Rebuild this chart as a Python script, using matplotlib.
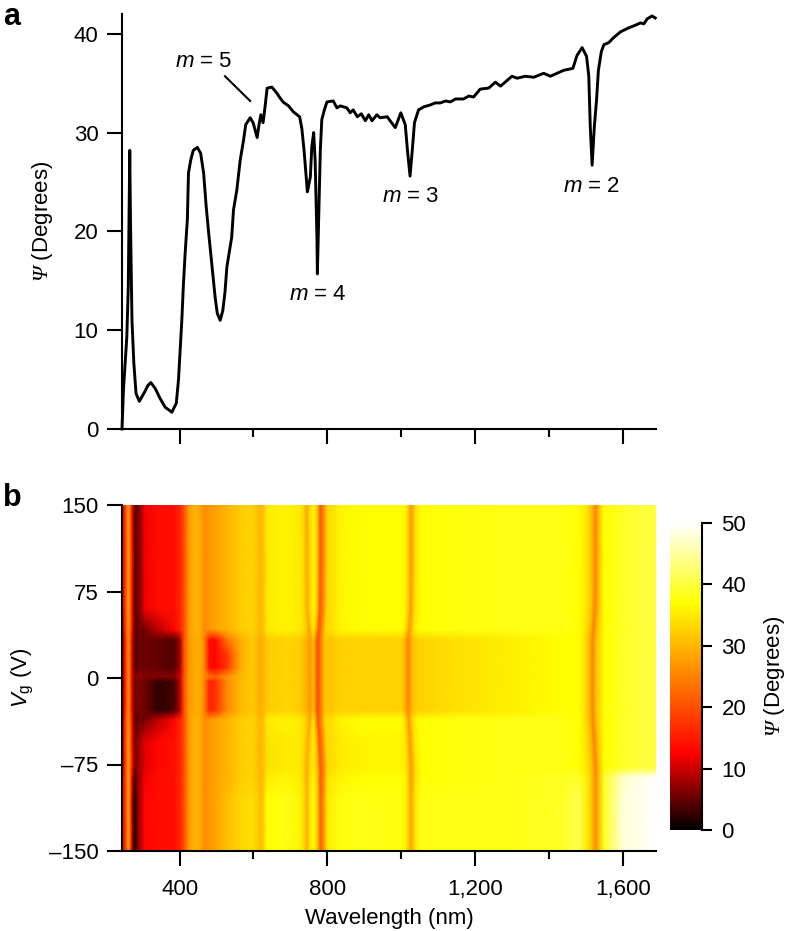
import numpy as np
import matplotlib
matplotlib.use("Agg")
import matplotlib.pyplot as plt
from matplotlib.colors import LinearSegmentedColormap

plt.rcParams["font.family"] = ["Liberation Sans", "DejaVu Sans"]
plt.rcParams["mathtext.fontset"] = "custom"
plt.rcParams["mathtext.rm"] = "Liberation Sans"
plt.rcParams["mathtext.it"] = "Liberation Sans:italic"
plt.rcParams["mathtext.bf"] = "Liberation Serif:italic"

# panel a, spectrum
wavelength = [244, 248, 257, 261, 263, 265, 267, 271, 276, 282, 291, 297, 306, 314, 322, 334, 347, 361, 379, 391,
              397, 401, 406, 410, 415, 421, 424, 430, 437, 448, 457, 465, 472, 478, 487, 496, 502, 510, 517, 523,
              528, 541, 546, 555, 564, 573, 579, 591, 599, 605, 610, 615, 620, 626, 631, 637, 650, 663, 672, 680,
              695, 708, 725, 731, 737, 746, 754, 758, 763, 767, 772, 773, 777, 781, 785, 792, 799, 816, 826, 835,
              853, 862, 870, 881, 892, 903, 912, 921, 934, 943, 962, 970, 984, 999, 1011, 1017, 1024, 1030, 1036, 1047,
              1061, 1079, 1092, 1106, 1120, 1133, 1147, 1169, 1183, 1196, 1214, 1237, 1255, 1269, 1300, 1314, 1336, 1359,
              1386, 1404, 1422, 1440, 1465, 1476, 1490, 1502, 1508, 1512, 1517, 1523, 1529, 1534, 1542, 1549, 1562, 1575,
              1594, 1616, 1630, 1648, 1657, 1666, 1679, 1688]
psi = [0, 4, 9.3, 14.4, 21, 28.2, 21, 11, 6.7, 3.6, 2.8, 3.2, 3.8, 4.4, 4.7, 4.1, 3.1, 2.2, 1.7, 2.6,
       5, 7.7, 11, 14.4, 17.8, 21.2, 25.9, 27.2, 28.2, 28.5, 27.9, 25.9, 22.5, 20.1, 16.8, 13.4, 11.7, 11, 12, 13.9,
       16.4, 19.4, 22.2, 24.2, 27.2, 29.2, 30.8, 31.5, 31, 30.2, 29.5, 30.8, 31.8, 31, 32.5, 34.5, 34.6, 34, 33.5, 33.1,
       32.7, 32.1, 31.6, 30.4, 28.2, 24, 25.5, 28.6, 30, 27.2, 19.1, 15.7, 22, 28.2, 31.3, 32.3, 33.1, 33.2, 32.5, 32.7,
       32.5, 32, 32.3, 31.6, 31.9, 31.2, 31.8, 31.2, 31.8, 31.5, 31.6, 31.2, 30.5, 32, 30.8, 28.2, 25.6, 28.2, 31, 32.3,
       32.6, 32.8, 33, 33, 33.2, 33.1, 33.4, 33.4, 33.7, 33.6, 34.4, 34.5, 35.1, 34.7, 35.7, 35.5, 35.7, 35.6,
       36, 35.7, 36, 36.3, 36.5, 37.8, 38.6, 37.7, 35.7, 30.6, 26.7, 30.6, 33.3, 36.3, 38.2, 38.9, 39.1, 39.6,
       40.2, 40.6, 40.8, 41.1, 41, 41.5, 41.8, 41.6]

# panel b, heat map nodes along wavelength, one list per band of gate voltage
map_wl = [244, 250, 255, 261, 267, 272, 278, 290, 306, 340, 385, 401, 412, 425, 442, 455, 466, 480, 496, 530,
          564, 596, 612, 618, 627, 636, 690, 728, 738, 745, 752, 762, 772, 781, 790, 800, 835, 900, 1000, 1015,
          1027, 1039, 1055, 1150, 1300, 1440, 1480, 1505, 1516, 1526, 1536, 1550, 1600, 1650, 1690]
# +1 moves with the gate like the 780 line, -1 moves the other way
map_follow = [0] * 28 + [-1, -1, -1, 0, 1, 1, 1, 1, 0, 0, 0, 1, 1, 1, 1, 0, 0, 0, 0, 1, 1, 1, 1, 0, 0, 0, 0]

band_top = [14, 14, 20, 28, 22, 13, 5, 6, 12, 13.5, 14, 16, 20, 27, 30, 29, 26, 27, 28, 30,
            32, 33, 31, 30, 31, 35, 36, 35, 32, 29, 33, 36, 33, 21, 25, 33, 36, 37, 37, 35,
            27, 34, 37, 37.5, 38, 38, 37, 34, 31, 25, 31, 37, 39, 40, 40]
band_upper = [7, 13, 20, 27, 21, 12, 5, 5, 6, 9, 13, 16, 20, 27, 30, 29, 26, 27, 28, 30,
              32, 33, 31, 30, 31, 35, 36, 35, 32, 28, 32, 35, 32, 21, 25, 33, 36, 37, 37, 35,
              27, 34, 37, 37.5, 38, 38, 37, 34, 31, 25, 31, 37, 39, 40, 40]
band_blob_up = [4, 12, 18, 26, 20, 10, 5, 5, 5.5, 5, 4, 8, 20, 27, 29, 29, 26, 14, 13, 18,
                29, 32, 30, 29, 30, 32, 33, 32, 29, 27, 30, 32, 29, 20, 24, 31, 32.5, 32.5, 32.5, 31,
                25, 31, 32.5, 34, 35.5, 37, 37, 34, 31, 25, 31, 37, 39, 40, 40]
band_blob_top = band_blob_up.copy()
band_blob_top[19] = 24
band_gap = [4, 12, 18, 26, 20, 10, 7, 7, 7, 6.5, 7, 10, 20, 27, 29, 29, 26, 24, 22, 27,
            30, 32, 30, 29, 30, 32, 33, 32, 29, 27, 30, 32, 29, 20, 24, 31, 32.5, 32.5, 32.5, 31,
            25, 31, 32.5, 34, 35.5, 37, 37, 34, 31, 25, 31, 37, 39, 40, 40]
band_blob_down = [4, 12, 18, 26, 20, 10, 6, 6, 5.5, 2.5, 3.5, 9, 20, 27, 29, 29, 26, 16, 17, 26,
                  30, 32, 30, 29, 30, 32, 33, 32, 29, 27, 30, 32, 29, 20, 24, 31, 32.5, 32.5, 32.5, 31,
                  25, 31, 32.5, 34, 35.5, 37, 37, 34, 31, 25, 31, 37, 39, 40, 40]
band_lower = [7, 14, 20, 28, 22, 13, 6, 8, 11, 13, 14, 16, 20, 27, 30, 29, 26, 27, 28, 30,
              32, 33, 31, 30, 31, 34, 35, 35, 32, 29, 33, 35, 32, 21, 25, 33, 35, 36, 36, 34,
              27, 34, 37, 37.5, 38, 38, 37, 34, 31, 25, 31, 37, 39, 40, 40]
band_edge = [14, 14, 20, 28, 21, 10, 4, 8, 12, 13.5, 14, 16, 20, 27, 30, 29, 26, 27, 28, 30,
             32, 33, 31, 30, 31, 35, 36, 35, 32, 29, 33, 36, 33, 21, 25, 34, 36, 37, 37, 35,
             27, 34, 37, 37.5, 38, 38.5, 39, 35, 31, 26, 31, 39, 47, 49, 50]
band_bottom = [14, 14, 20, 28, 20, 8, 2, 8, 13, 13.5, 14, 16, 20, 27, 30, 29, 26, 27, 28, 31,
               33, 34, 32, 31, 32, 37, 38, 36, 33, 29, 34, 37, 33, 22, 26, 35, 37.5, 38, 37.5, 35,
               28, 35, 38, 38, 38, 39, 41, 35, 31, 26, 31, 39, 48, 49, 50]

vg_rows = [150, 60, 42, 33, 20, 9, 1, -3, -28, -36, -55, -78, -86, -105, -150]
row_bands = [band_top, band_top, band_upper, band_blob_top, band_blob_up, band_blob_up, band_gap, band_blob_down,
             band_blob_down, band_upper, band_lower, band_lower, band_edge, band_bottom, band_bottom]
line_shift = [0, -1, -5, -8, -8, -8, -8, -8, -8, -7, -3, 0, 0, 0, 0]

# colour bar, black to red to yellow to white
cmap_stops = [(0, "#000000"), (12.5 / 50, "#ff0000"), (37 / 50, "#ffff00"), (1, "#ffffff")]

fig = plt.figure(figsize=(7.86, 9.31), dpi=100)
W, H = 786, 931


def px_axes(x0, y0, x1, y1):
    return fig.add_axes([x0 / W, 1 - y1 / H, (x1 - x0) / W, (y1 - y0) / H])


def style_ax(ax):
    for s in ["left", "bottom"]:
        ax.spines[s].set_linewidth(1.5)
    ax.spines["top"].set_visible(False)
    ax.spines["right"].set_visible(False)
    ax.set_xlim(244, 1690)
    ax.set_xticks([400, 800, 1200, 1600])
    ax.set_xticks([600, 1000, 1400], minor=True)
    ax.tick_params(axis="both", which="major", length=11, width=1.5, labelsize=16, pad=6)
    ax.tick_params(axis="x", which="major", pad=9)
    ax.tick_params(axis="x", which="minor", length=5.5, width=1.5)


# panel a
ax1 = px_axes(122, 14, 656, 429)
ax1.plot(wavelength, psi, color="black", lw=2.1, solid_joinstyle="round", clip_on=False)
style_ax(ax1)
ax1.set_ylim(0, 42)
ax1.set_yticks([0, 10, 20, 30, 40])
ax1.set_xticklabels([])
ax1.set_ylabel(r"$\mathbf{\Psi}$ (Degrees)", fontsize=16, labelpad=13)
ax1.plot([523, 591], [35.7, 33.2], color="black", lw=1.5)
for label, x, y in [("5", 466, 37.2), ("4", 773, 13.6), ("3", 1025, 23.5), ("2", 1515, 24.5)]:
    ax1.text(x, y, r"$m$ = " + label, fontsize=16, ha="center", va="center")

# panel b
ax2 = px_axes(122, 505, 656, 851)
cmap = LinearSegmentedColormap.from_list("psi", cmap_stops)
follow = np.array(map_follow)
X = np.array([np.array(map_wl) + follow * s for s in line_shift], dtype=float)
Y = np.tile(np.array(vg_rows, dtype=float)[:, None], (1, len(map_wl)))
Z = np.array(row_bands, dtype=float)
mesh = ax2.pcolormesh(X, Y, Z, shading="gouraud", cmap=cmap, vmin=0, vmax=50, rasterized=True)
style_ax(ax2)
ax2.set_ylim(-150, 150)
ax2.set_yticks([-150, -75, 0, 75, 150])
ax2.set_yticklabels(["\u2013150", "\u201375", "0", "75", "150"])
ax2.set_xticklabels(["400", "800", "1,200", "1,600"])
ax2.set_xlabel("Wavelength (nm)", fontsize=16, labelpad=6)
ax2.set_ylabel(r"$V_{\mathrm{g}}$ (V)", fontsize=16, labelpad=9)

# colour bar
cax = px_axes(670, 523, 702, 830)
cbar = fig.colorbar(mesh, cax=cax)
cbar.outline.set_visible(False)
cax.spines["right"].set_visible(True)
cax.spines["right"].set_linewidth(1.5)
cbar.set_ticks([0, 10, 20, 30, 40, 50])
cax.tick_params(length=7, width=1.5, labelsize=16, pad=7)
cbar.set_label(r"$\mathbf{\Psi}$ (Degrees)", fontsize=16, labelpad=11)

fig.text(3 / W, 1 - 17 / H, "a", fontsize=22, fontweight="bold", va="center")
fig.text(3 / W, 1 - 498 / H, "b", fontsize=22, fontweight="bold", va="center")

fig.savefig("out.png", dpi=100)
